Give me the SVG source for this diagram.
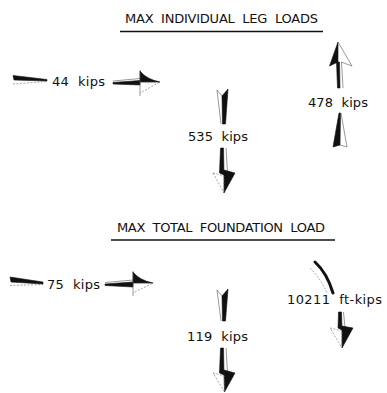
<svg xmlns="http://www.w3.org/2000/svg" width="387" height="393" viewBox="0 0 387 393">
<style>
text{font-family:"DejaVu Sans","Liberation Sans",sans-serif;fill:#111;}
.t{font-size:13px;}
.lbl{font-size:13px;}
.ul{stroke:#111;stroke-width:1.6;fill:none;}
.blk{fill:#111;stroke:#111;stroke-width:0.6;stroke-linejoin:round;}
.thin{fill:none;stroke:#555;stroke-width:0.6;}
.dash{fill:none;stroke:#666;stroke-width:0.6;stroke-dasharray:2 1.5;}
</style>
<rect width="387" height="393" fill="#fff"/>

<g id="title-leg">
<text class="t" x="125" y="23" textLength="193" lengthAdjust="spacing" xml:space="preserve">MAX  INDIVIDUAL  LEG  LOADS</text>
<line class="ul" x1="120" y1="31.5" x2="323" y2="31.5"/>
</g>

<g id="title-foundation">
<text class="t" x="117" y="232" textLength="208" lengthAdjust="spacing" xml:space="preserve">MAX  TOTAL  FOUNDATION  LOAD</text>
<line class="ul" x1="111" y1="240" x2="335" y2="240"/>
</g>

<g id="load-44">
<text class="lbl" x="52" y="86" textLength="53" lengthAdjust="spacing" xml:space="preserve">44  kips</text>
</g>
<g id="load-478">
<text class="lbl" x="308" y="107" textLength="60" lengthAdjust="spacing" xml:space="preserve">478  kips</text>
</g>
<g id="load-535">
<text class="lbl" x="188" y="141" textLength="60" lengthAdjust="spacing" xml:space="preserve">535  kips</text>
</g>
<g id="load-75">
<text class="lbl" x="47" y="289" textLength="53" lengthAdjust="spacing" xml:space="preserve">75  kips</text>
</g>
<g id="load-10211">
<text class="lbl" x="287" y="304" textLength="95" lengthAdjust="spacing" xml:space="preserve">10211  ft-kips</text>
</g>
<g id="load-119">
<text class="lbl" x="187" y="341" textLength="61" lengthAdjust="spacing" xml:space="preserve">119  kips</text>
</g>

<g id="connectors">
<g id="arrow-44">
<polygon class="blk" points="13,75.5 47,79.5 47,81 14,80"/>
<line class="dash" x1="13" y1="84" x2="47" y2="81.5"/>
<polygon class="blk" points="113,82.5 140,80.5 140,85 113,84"/>
<line class="thin" x1="113" y1="81" x2="140" y2="78.5"/>
<path class="blk" d="M140,71 Q146,79 160,82 L140,82 Z"/>
<path class="dash" d="M140,82 L160,82 L140,93"/>
<line class="thin" x1="140" y1="70" x2="140" y2="96"/>
</g>
<g id="arrow-478">
<polygon class="blk" points="338,42 329.5,66 338,62"/>
<path class="thin" d="M338,42 L352,66 L341,62"/>
<polygon class="blk" points="336.5,62 339.5,62 340,88 337.5,88"/>
<line class="thin" x1="341.5" y1="62" x2="343" y2="88"/>
<polygon class="blk" points="339,113 340.5,113 340,145 333,147"/>
<path class="thin" d="M341,113 L347,147 L340,145"/>
</g>
<g id="arrow-535">
<polygon class="blk" points="222,96 228,89 225.5,124 222.5,124"/>
<path class="thin" d="M217,90 L221,124 M217,90 L222,96"/>
<polygon class="blk" points="220.5,148 223.5,148 224,175 219.5,173"/>
<line class="thin" x1="226" y1="148" x2="227.5" y2="173"/>
<polygon class="blk" points="224,170 235,173 224,193"/>
<path class="dash" d="M213,173 L224,176 L224,193 Z"/>
</g>
<g id="arrow-75">
<polygon class="blk" points="10,277 43,282 43,284 11,282"/>
<line class="dash" x1="10" y1="285.5" x2="43" y2="284.5"/>
<polygon class="blk" points="105,284 133,282 133,287 105,285.5"/>
<line class="thin" x1="105" y1="282.5" x2="133" y2="280"/>
<path class="blk" d="M133,272 Q139,280 153,283 L133,283 Z"/>
<path class="dash" d="M133,283 L153,283 L133,293"/>
<line class="thin" x1="133" y1="271" x2="133" y2="296"/>
</g>
<g id="arrow-10211">
<path d="M315,262 Q327,273 333,293" fill="none" stroke="#111" stroke-width="3" stroke-linecap="round"/>
<path class="dash" d="M310,268 Q321,279 327,293"/>
<polygon class="blk" points="338.5,312 341.5,312 342,330 338,328"/>
<line class="thin" x1="343.5" y1="312" x2="345" y2="328"/>
<polygon class="blk" points="342,326 353,328 342,348"/>
<path class="dash" d="M330,328 L342,331 L342,348 Z"/>
</g>
<g id="arrow-119">
<polygon class="blk" points="222,296 228,289 225.5,321 222.5,321"/>
<path class="thin" d="M217,290 L221,321 M217,290 L222,296"/>
<polygon class="blk" points="220.5,348 223.5,348 224,375 219.5,373"/>
<line class="thin" x1="226" y1="348" x2="227.5" y2="373"/>
<polygon class="blk" points="224,370 235,373 224.5,392"/>
<path class="dash" d="M213,373 L224,376 L224.5,392 Z"/>
</g>
</g>
</svg>
